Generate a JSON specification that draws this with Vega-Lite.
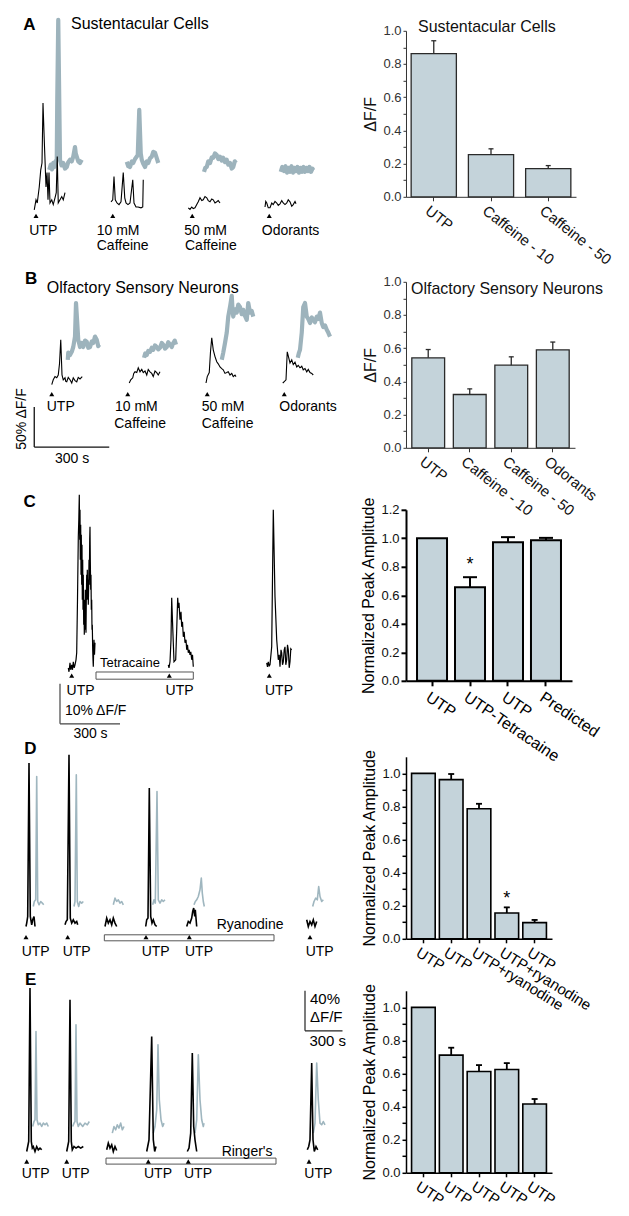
{
"$schema": "https://vega.github.io/schema/vega-lite/v6.json",
"background": "white",
"padding": {"left": 0, "top": 14.8, "right": 5, "bottom": 5},
"autosize": {"type": "pad"},
"columns": 2,
"bounds": "flush",
"align": "each",
"spacing": {"row": 10, "column": 10},
"config": {
"font": "Liberation Sans",
"view": {"stroke": null},
"axis": {"labelFont": "Liberation Sans", "titleFont": "Liberation Sans", "grid": false, "labelOverlap": false, "labelFlush": false, "labelBound": false},
"axisY": {"labelOverlap": false},
"axisX": {"labelOverlap": false},
"title": {"font": "Liberation Sans"},
"text": {"font": "Liberation Sans", "color": "#000"}
},
"datasets": {
"trA": [
{"s":"A1k","c":"k","t":137,"v":77.5},{"s":"A1k","c":"k","t":144,"v":90},{"s":"A1k","c":"k","t":149,"v":86},{"s":"A1k","c":"k","t":157,"v":106},{"s":"A1k","c":"k","t":163,"v":127.5},{"s":"A1k","c":"k","t":168,"v":136},{"s":"A1k","c":"k","t":172,"v":211},{"s":"A1k","c":"k","t":177,"v":165},{"s":"A1k","c":"k","t":184,"v":106},{"s":"A1k","c":"k","t":188,"v":124},{"s":"A1k","c":"k","t":192,"v":90},{"s":"A1k","c":"k","t":196,"v":124},{"s":"A1k","c":"k","t":200,"v":86},{"s":"A1k","c":"k","t":207,"v":90},{"s":"A1k","c":"k","t":213,"v":84},{"s":"A1k","c":"k","t":220,"v":92.5},{"s":"A1k","c":"k","t":225,"v":99},{"s":"A1k","c":"k","t":229,"v":144},{"s":"A1k","c":"k","t":233,"v":86},{"s":"A1k","c":"k","t":240,"v":90},{"s":"A1k","c":"k","t":247,"v":94},{"s":"A1k","c":"k","t":253,"v":90},{"s":"A1k","c":"k","t":260,"v":99},
{"s":"A1g","c":"g","t":197,"v":127.5},{"s":"A1g","c":"g","t":203,"v":134},{"s":"A1g","c":"g","t":208,"v":128},{"s":"A1g","c":"g","t":213,"v":136},{"s":"A1g","c":"g","t":218,"v":131},{"s":"A1g","c":"g","t":222,"v":138},{"s":"A1g","c":"g","t":227,"v":140},{"s":"A1g","c":"g","t":229,"v":215},{"s":"A1g","c":"g","t":233,"v":315},{"s":"A1g","c":"g","t":237,"v":215},{"s":"A1g","c":"g","t":240,"v":140},{"s":"A1g","c":"g","t":246,"v":133},{"s":"A1g","c":"g","t":253,"v":136},{"s":"A1g","c":"g","t":260,"v":129},{"s":"A1g","c":"g","t":267,"v":131},{"s":"A1g","c":"g","t":273,"v":137},{"s":"A1g","c":"g","t":280,"v":140},{"s":"A1g","c":"g","t":287,"v":138},{"s":"A1g","c":"g","t":293,"v":144},{"s":"A1g","c":"g","t":300,"v":156},{"s":"A1g","c":"g","t":303,"v":148},{"s":"A1g","c":"g","t":307,"v":144},{"s":"A1g","c":"g","t":313,"v":138},{"s":"A1g","c":"g","t":320,"v":136},{"s":"A1g","c":"g","t":327,"v":140},
{"s":"A2k","c":"k","t":444,"v":87.5},{"s":"A2k","c":"k","t":451,"v":90},{"s":"A2k","c":"k","t":456,"v":119},{"s":"A2k","c":"k","t":461,"v":90},{"s":"A2k","c":"k","t":468,"v":86},{"s":"A2k","c":"k","t":476,"v":84},{"s":"A2k","c":"k","t":484,"v":87.5},{"s":"A2k","c":"k","t":493,"v":124},{"s":"A2k","c":"k","t":499,"v":92.5},{"s":"A2k","c":"k","t":504,"v":86},{"s":"A2k","c":"k","t":512,"v":84},{"s":"A2k","c":"k","t":520,"v":86},{"s":"A2k","c":"k","t":531,"v":115},{"s":"A2k","c":"k","t":536,"v":86},{"s":"A2k","c":"k","t":544,"v":81},{"s":"A2k","c":"k","t":552,"v":81},{"s":"A2k","c":"k","t":564,"v":80},{"s":"A2k","c":"k","t":571,"v":81},{"s":"A2k","c":"k","t":573,"v":115},
{"s":"A2g","c":"g","t":507,"v":137.5},{"s":"A2g","c":"g","t":513,"v":132},{"s":"A2g","c":"g","t":520,"v":131},{"s":"A2g","c":"g","t":527,"v":138},{"s":"A2g","c":"g","t":533,"v":136},{"s":"A2g","c":"g","t":540,"v":141},{"s":"A2g","c":"g","t":547,"v":144},{"s":"A2g","c":"g","t":551,"v":146},{"s":"A2g","c":"g","t":557,"v":202.5},{"s":"A2g","c":"g","t":563,"v":148},{"s":"A2g","c":"g","t":567,"v":140},{"s":"A2g","c":"g","t":573,"v":135},{"s":"A2g","c":"g","t":580,"v":131},{"s":"A2g","c":"g","t":587,"v":138},{"s":"A2g","c":"g","t":593,"v":136},{"s":"A2g","c":"g","t":600,"v":142},{"s":"A2g","c":"g","t":607,"v":144},{"s":"A2g","c":"g","t":613,"v":150},{"s":"A2g","c":"g","t":620,"v":149},{"s":"A2g","c":"g","t":627,"v":142},{"s":"A2g","c":"g","t":633,"v":136},
{"s":"A3k","c":"k","t":753,"v":80},{"s":"A3k","c":"k","t":760,"v":78},{"s":"A3k","c":"k","t":767,"v":81},{"s":"A3k","c":"k","t":773,"v":79},{"s":"A3k","c":"k","t":780,"v":80},{"s":"A3k","c":"k","t":787,"v":84},{"s":"A3k","c":"k","t":793,"v":87.5},{"s":"A3k","c":"k","t":800,"v":92.5},{"s":"A3k","c":"k","t":807,"v":89},{"s":"A3k","c":"k","t":813,"v":90},{"s":"A3k","c":"k","t":820,"v":94},{"s":"A3k","c":"k","t":827,"v":92.5},{"s":"A3k","c":"k","t":833,"v":89},{"s":"A3k","c":"k","t":840,"v":87.5},{"s":"A3k","c":"k","t":847,"v":91},{"s":"A3k","c":"k","t":853,"v":90},{"s":"A3k","c":"k","t":860,"v":86},{"s":"A3k","c":"k","t":867,"v":87.5},{"s":"A3k","c":"k","t":873,"v":89},{"s":"A3k","c":"k","t":880,"v":86},
{"s":"A3g","c":"g","t":816,"v":125},{"s":"A3g","c":"g","t":821,"v":130},{"s":"A3g","c":"g","t":827,"v":131},{"s":"A3g","c":"g","t":833,"v":138},{"s":"A3g","c":"g","t":840,"v":136},{"s":"A3g","c":"g","t":847,"v":143},{"s":"A3g","c":"g","t":853,"v":142.5},{"s":"A3g","c":"g","t":860,"v":148},{"s":"A3g","c":"g","t":867,"v":146},{"s":"A3g","c":"g","t":873,"v":141},{"s":"A3g","c":"g","t":880,"v":144},{"s":"A3g","c":"g","t":887,"v":139},{"s":"A3g","c":"g","t":893,"v":142.5},{"s":"A3g","c":"g","t":900,"v":137},{"s":"A3g","c":"g","t":907,"v":140},{"s":"A3g","c":"g","t":913,"v":134},{"s":"A3g","c":"g","t":920,"v":136},{"s":"A3g","c":"g","t":927,"v":129},{"s":"A3g","c":"g","t":933,"v":131},{"s":"A3g","c":"g","t":939,"v":138},{"s":"A3g","c":"g","t":944,"v":136},
{"s":"A4k","c":"k","t":1060,"v":81},{"s":"A4k","c":"k","t":1063,"v":88},{"s":"A4k","c":"k","t":1067,"v":86},{"s":"A4k","c":"k","t":1073,"v":80},{"s":"A4k","c":"k","t":1080,"v":80},{"s":"A4k","c":"k","t":1087,"v":86},{"s":"A4k","c":"k","t":1093,"v":84},{"s":"A4k","c":"k","t":1100,"v":88},{"s":"A4k","c":"k","t":1107,"v":86},{"s":"A4k","c":"k","t":1113,"v":83},{"s":"A4k","c":"k","t":1120,"v":85},{"s":"A4k","c":"k","t":1127,"v":89},{"s":"A4k","c":"k","t":1133,"v":86},{"s":"A4k","c":"k","t":1140,"v":84},{"s":"A4k","c":"k","t":1147,"v":86},{"s":"A4k","c":"k","t":1153,"v":90},{"s":"A4k","c":"k","t":1160,"v":87.5},{"s":"A4k","c":"k","t":1167,"v":82},{"s":"A4k","c":"k","t":1173,"v":84},{"s":"A4k","c":"k","t":1180,"v":88},{"s":"A4k","c":"k","t":1184,"v":85},
{"s":"A4g","c":"g","t":1123,"v":125},{"s":"A4g","c":"g","t":1129,"v":131},{"s":"A4g","c":"g","t":1136,"v":126},{"s":"A4g","c":"g","t":1142,"v":132},{"s":"A4g","c":"g","t":1148,"v":124},{"s":"A4g","c":"g","t":1154,"v":130},{"s":"A4g","c":"g","t":1160,"v":125},{"s":"A4g","c":"g","t":1166,"v":132},{"s":"A4g","c":"g","t":1172,"v":124},{"s":"A4g","c":"g","t":1178,"v":130},{"s":"A4g","c":"g","t":1184,"v":126},{"s":"A4g","c":"g","t":1190,"v":131},{"s":"A4g","c":"g","t":1196,"v":124},{"s":"A4g","c":"g","t":1202,"v":130},{"s":"A4g","c":"g","t":1208,"v":125},{"s":"A4g","c":"g","t":1214,"v":131},{"s":"A4g","c":"g","t":1220,"v":125},{"s":"A4g","c":"g","t":1226,"v":130},{"s":"A4g","c":"g","t":1232,"v":126},{"s":"A4g","c":"g","t":1238,"v":131},{"s":"A4g","c":"g","t":1244,"v":125},{"s":"A4g","c":"g","t":1250,"v":129},{"s":"A4g","c":"g","t":1253,"v":127}
],
"trB": [
{"s":"B1k","c":"k","t":207,"v":144},{"s":"B1k","c":"k","t":213,"v":150},{"s":"B1k","c":"k","t":220,"v":154},{"s":"B1k","c":"k","t":227,"v":152.5},{"s":"B1k","c":"k","t":233,"v":156},{"s":"B1k","c":"k","t":238,"v":170},{"s":"B1k","c":"k","t":243,"v":200},{"s":"B1k","c":"k","t":248,"v":156},{"s":"B1k","c":"k","t":253,"v":150},{"s":"B1k","c":"k","t":260,"v":152.5},{"s":"B1k","c":"k","t":263,"v":148},{"s":"B1k","c":"k","t":267,"v":147.5},{"s":"B1k","c":"k","t":273,"v":153},{"s":"B1k","c":"k","t":280,"v":150},{"s":"B1k","c":"k","t":287,"v":146},{"s":"B1k","c":"k","t":293,"v":152.5},{"s":"B1k","c":"k","t":300,"v":149},{"s":"B1k","c":"k","t":307,"v":147.5},{"s":"B1k","c":"k","t":313,"v":153},{"s":"B1k","c":"k","t":320,"v":151},{"s":"B1k","c":"k","t":329,"v":154},
{"s":"B1g","c":"g","t":271,"v":175},{"s":"B1g","c":"g","t":273,"v":184},{"s":"B1g","c":"g","t":280,"v":181},{"s":"B1g","c":"g","t":287,"v":185},{"s":"B1g","c":"g","t":293,"v":191},{"s":"B1g","c":"g","t":300,"v":204},{"s":"B1g","c":"g","t":304,"v":246},{"s":"B1g","c":"g","t":309,"v":221},{"s":"B1g","c":"g","t":313,"v":200},{"s":"B1g","c":"g","t":320,"v":191},{"s":"B1g","c":"g","t":327,"v":196},{"s":"B1g","c":"g","t":333,"v":191},{"s":"B1g","c":"g","t":340,"v":199},{"s":"B1g","c":"g","t":347,"v":197.5},{"s":"B1g","c":"g","t":353,"v":190},{"s":"B1g","c":"g","t":360,"v":191},{"s":"B1g","c":"g","t":367,"v":198},{"s":"B1g","c":"g","t":373,"v":196},{"s":"B1g","c":"g","t":380,"v":204},{"s":"B1g","c":"g","t":387,"v":200},{"s":"B1g","c":"g","t":393,"v":192},{"s":"B1g","c":"g","t":397,"v":194},
{"s":"B2k","c":"k","t":517,"v":146},{"s":"B2k","c":"k","t":523,"v":150},{"s":"B2k","c":"k","t":531,"v":152.5},{"s":"B2k","c":"k","t":535,"v":158},{"s":"B2k","c":"k","t":540,"v":160},{"s":"B2k","c":"k","t":547,"v":159},{"s":"B2k","c":"k","t":553,"v":165},{"s":"B2k","c":"k","t":560,"v":160},{"s":"B2k","c":"k","t":567,"v":163},{"s":"B2k","c":"k","t":573,"v":159},{"s":"B2k","c":"k","t":580,"v":161},{"s":"B2k","c":"k","t":587,"v":156},{"s":"B2k","c":"k","t":593,"v":163},{"s":"B2k","c":"k","t":600,"v":160},{"s":"B2k","c":"k","t":607,"v":158},{"s":"B2k","c":"k","t":613,"v":154},{"s":"B2k","c":"k","t":620,"v":161},{"s":"B2k","c":"k","t":627,"v":159},{"s":"B2k","c":"k","t":633,"v":156},{"s":"B2k","c":"k","t":640,"v":160},
{"s":"B2g","c":"g","t":576,"v":177.5},{"s":"B2g","c":"g","t":581,"v":183},{"s":"B2g","c":"g","t":587,"v":181},{"s":"B2g","c":"g","t":593,"v":186},{"s":"B2g","c":"g","t":600,"v":185},{"s":"B2g","c":"g","t":607,"v":190},{"s":"B2g","c":"g","t":613,"v":187.5},{"s":"B2g","c":"g","t":620,"v":193},{"s":"B2g","c":"g","t":627,"v":191},{"s":"B2g","c":"g","t":633,"v":188},{"s":"B2g","c":"g","t":640,"v":190},{"s":"B2g","c":"g","t":647,"v":196},{"s":"B2g","c":"g","t":653,"v":194},{"s":"B2g","c":"g","t":660,"v":189},{"s":"B2g","c":"g","t":667,"v":191},{"s":"B2g","c":"g","t":673,"v":197},{"s":"B2g","c":"g","t":680,"v":194},{"s":"B2g","c":"g","t":687,"v":191},{"s":"B2g","c":"g","t":693,"v":196},{"s":"B2g","c":"g","t":699,"v":199},{"s":"B2g","c":"g","t":704,"v":194},
{"s":"B3k","c":"k","t":824,"v":146},{"s":"B3k","c":"k","t":829,"v":154},{"s":"B3k","c":"k","t":837,"v":159},{"s":"B3k","c":"k","t":842,"v":185},{"s":"B3k","c":"k","t":847,"v":202.5},{"s":"B3k","c":"k","t":853,"v":187.5},{"s":"B3k","c":"k","t":860,"v":179},{"s":"B3k","c":"k","t":867,"v":172.5},{"s":"B3k","c":"k","t":873,"v":170},{"s":"B3k","c":"k","t":880,"v":166},{"s":"B3k","c":"k","t":887,"v":164},{"s":"B3k","c":"k","t":893,"v":162.5},{"s":"B3k","c":"k","t":900,"v":158},{"s":"B3k","c":"k","t":907,"v":159},{"s":"B3k","c":"k","t":913,"v":160},{"s":"B3k","c":"k","t":920,"v":156},{"s":"B3k","c":"k","t":927,"v":158},{"s":"B3k","c":"k","t":933,"v":154},{"s":"B3k","c":"k","t":940,"v":156},{"s":"B3k","c":"k","t":944,"v":154},
{"s":"B3g","c":"g","t":887,"v":175},{"s":"B3g","c":"g","t":893,"v":184},{"s":"B3g","c":"g","t":900,"v":196},{"s":"B3g","c":"g","t":907,"v":209},{"s":"B3g","c":"g","t":913,"v":229},{"s":"B3g","c":"g","t":920,"v":241},{"s":"B3g","c":"g","t":927,"v":255},{"s":"B3g","c":"g","t":930,"v":238},{"s":"B3g","c":"g","t":933,"v":229},{"s":"B3g","c":"g","t":940,"v":238},{"s":"B3g","c":"g","t":947,"v":234},{"s":"B3g","c":"g","t":953,"v":244},{"s":"B3g","c":"g","t":960,"v":241},{"s":"B3g","c":"g","t":967,"v":232},{"s":"B3g","c":"g","t":973,"v":237.5},{"s":"B3g","c":"g","t":980,"v":230},{"s":"B3g","c":"g","t":987,"v":225},{"s":"B3g","c":"g","t":993,"v":246},{"s":"B3g","c":"g","t":1000,"v":234},{"s":"B3g","c":"g","t":1007,"v":236},{"s":"B3g","c":"g","t":1013,"v":229},
{"s":"B4k","c":"k","t":1131,"v":146},{"s":"B4k","c":"k","t":1136,"v":147.5},{"s":"B4k","c":"k","t":1144,"v":150},{"s":"B4k","c":"k","t":1149,"v":185},{"s":"B4k","c":"k","t":1155,"v":177.5},{"s":"B4k","c":"k","t":1160,"v":171},{"s":"B4k","c":"k","t":1167,"v":175},{"s":"B4k","c":"k","t":1173,"v":169},{"s":"B4k","c":"k","t":1180,"v":172},{"s":"B4k","c":"k","t":1187,"v":166},{"s":"B4k","c":"k","t":1193,"v":168},{"s":"B4k","c":"k","t":1200,"v":165},{"s":"B4k","c":"k","t":1207,"v":167},{"s":"B4k","c":"k","t":1213,"v":162.5},{"s":"B4k","c":"k","t":1220,"v":164},{"s":"B4k","c":"k","t":1227,"v":160},{"s":"B4k","c":"k","t":1233,"v":163},{"s":"B4k","c":"k","t":1240,"v":159},{"s":"B4k","c":"k","t":1247,"v":158},{"s":"B4k","c":"k","t":1253,"v":156},
{"s":"B4g","c":"g","t":1191,"v":177.5},{"s":"B4g","c":"g","t":1196,"v":184},{"s":"B4g","c":"g","t":1200,"v":187.5},{"s":"B4g","c":"g","t":1207,"v":209},{"s":"B4g","c":"g","t":1213,"v":241},{"s":"B4g","c":"g","t":1220,"v":246},{"s":"B4g","c":"g","t":1227,"v":229},{"s":"B4g","c":"g","t":1233,"v":226},{"s":"B4g","c":"g","t":1240,"v":221},{"s":"B4g","c":"g","t":1247,"v":228},{"s":"B4g","c":"g","t":1253,"v":225},{"s":"B4g","c":"g","t":1260,"v":222},{"s":"B4g","c":"g","t":1267,"v":229},{"s":"B4g","c":"g","t":1273,"v":226},{"s":"B4g","c":"g","t":1280,"v":234},{"s":"B4g","c":"g","t":1287,"v":221},{"s":"B4g","c":"g","t":1293,"v":216},{"s":"B4g","c":"g","t":1300,"v":218},{"s":"B4g","c":"g","t":1307,"v":212.5},{"s":"B4g","c":"g","t":1313,"v":209},{"s":"B4g","c":"g","t":1320,"v":204}
],
"trC": [
{"s":"C1","c":"k","t":341.5,"v":19.75},{"s":"C1","c":"k","t":345,"v":18.75},{"s":"C1","c":"k","t":350,"v":21},{"s":"C1","c":"k","t":353.5,"v":19.25},{"s":"C1","c":"k","t":358.5,"v":20.5},{"s":"C1","c":"k","t":362.5,"v":19.25},{"s":"C1","c":"k","t":366.5,"v":21.25},{"s":"C1","c":"k","t":371,"v":19.75},{"s":"C1","c":"k","t":375,"v":20.5},{"s":"C1","c":"k","t":380,"v":21.75},{"s":"C1","c":"k","t":383.5,"v":23.5},{"s":"C1","c":"k","t":387.5,"v":36.75},{"s":"C1","c":"k","t":391.5,"v":52.5},{"s":"C1","c":"k","t":394,"v":56.75},{"s":"C1","c":"k","t":396.5,"v":63},{"s":"C1","c":"k","t":398.5,"v":51.75},{"s":"C1","c":"k","t":400,"v":59.25},{"s":"C1","c":"k","t":401.5,"v":46.75},{"s":"C1","c":"k","t":403.5,"v":55.5},{"s":"C1","c":"k","t":405,"v":43},{"s":"C1","c":"k","t":406.5,"v":53},{"s":"C1","c":"k","t":408.5,"v":40.5},{"s":"C1","c":"k","t":410,"v":50.5},{"s":"C1","c":"k","t":411.5,"v":36.75},{"s":"C1","c":"k","t":413.5,"v":46.75},{"s":"C1","c":"k","t":415,"v":34.25},{"s":"C1","c":"k","t":416.5,"v":43},{"s":"C1","c":"k","t":418.5,"v":30.5},{"s":"C1","c":"k","t":420,"v":36.75},{"s":"C1","c":"k","t":421.5,"v":28},{"s":"C1","c":"k","t":423.5,"v":34.25},{"s":"C1","c":"k","t":425,"v":29.25},{"s":"C1","c":"k","t":426.5,"v":39.25},{"s":"C1","c":"k","t":428.5,"v":31.75},{"s":"C1","c":"k","t":430,"v":28.5},{"s":"C1","c":"k","t":431.5,"v":36.75},{"s":"C1","c":"k","t":433.5,"v":43},{"s":"C1","c":"k","t":435,"v":36.75},{"s":"C1","c":"k","t":436.5,"v":44.25},{"s":"C1","c":"k","t":438.5,"v":38},{"s":"C1","c":"k","t":440,"v":41.75},{"s":"C1","c":"k","t":441.5,"v":35.5},{"s":"C1","c":"k","t":443.5,"v":40.5},{"s":"C1","c":"k","t":445,"v":46.75},{"s":"C1","c":"k","t":446.5,"v":40.5},{"s":"C1","c":"k","t":448.5,"v":51.75},{"s":"C1","c":"k","t":450,"v":55},{"s":"C1","c":"k","t":451.5,"v":46.75},{"s":"C1","c":"k","t":453.5,"v":39.25},{"s":"C1","c":"k","t":455,"v":43},{"s":"C1","c":"k","t":456.5,"v":34.25},{"s":"C1","c":"k","t":458.5,"v":36.75},{"s":"C1","c":"k","t":460,"v":29.25},{"s":"C1","c":"k","t":461.5,"v":30.5},{"s":"C1","c":"k","t":463.5,"v":24.25},{"s":"C1","c":"k","t":465,"v":21.75},{"s":"C1","c":"k","t":466.5,"v":20},{"s":"C1","c":"k","t":468.5,"v":24.25},{"s":"C1","c":"k","t":470,"v":26.75},{"s":"C1","c":"k","t":472.5,"v":23},{"s":"C1","c":"k","t":475,"v":26},
{"s":"C2","c":"k","t":841.5,"v":20.5},{"s":"C2","c":"k","t":845,"v":19.75},{"s":"C2","c":"k","t":850,"v":21.25},{"s":"C2","c":"k","t":855,"v":26.75},{"s":"C2","c":"k","t":858.5,"v":37.25},{"s":"C2","c":"k","t":863.5,"v":30},{"s":"C2","c":"k","t":870,"v":21.25},{"s":"C2","c":"k","t":878.5,"v":21.75},{"s":"C2","c":"k","t":883.5,"v":29.25},{"s":"C2","c":"k","t":888.5,"v":37.25},{"s":"C2","c":"k","t":891.5,"v":34.75},{"s":"C2","c":"k","t":895,"v":36},{"s":"C2","c":"k","t":898.5,"v":33},{"s":"C2","c":"k","t":900,"v":31.75},{"s":"C2","c":"k","t":905,"v":33.75},{"s":"C2","c":"k","t":908.5,"v":30},{"s":"C2","c":"k","t":912.5,"v":31.25},{"s":"C2","c":"k","t":916.5,"v":27.5},{"s":"C2","c":"k","t":921,"v":28.75},{"s":"C2","c":"k","t":925,"v":26},{"s":"C2","c":"k","t":930,"v":26.75},{"s":"C2","c":"k","t":933.5,"v":24.25},{"s":"C2","c":"k","t":937.5,"v":25.5},{"s":"C2","c":"k","t":941.5,"v":23.5},{"s":"C2","c":"k","t":946,"v":24.25},{"s":"C2","c":"k","t":950,"v":23},{"s":"C2","c":"k","t":954,"v":23.75},{"s":"C2","c":"k","t":958.5,"v":21.75},{"s":"C2","c":"k","t":962.5,"v":23},{"s":"C2","c":"k","t":966.5,"v":20},
{"s":"C3","c":"k","t":1333.5,"v":21},{"s":"C3","c":"k","t":1337.5,"v":20},{"s":"C3","c":"k","t":1341.5,"v":21.25},{"s":"C3","c":"k","t":1346,"v":20.25},{"s":"C3","c":"k","t":1350,"v":20.5},{"s":"C3","c":"k","t":1358.5,"v":25},{"s":"C3","c":"k","t":1366.5,"v":59.25},{"s":"C3","c":"k","t":1375,"v":37.5},{"s":"C3","c":"k","t":1383.5,"v":26.75},{"s":"C3","c":"k","t":1391.5,"v":21.75},{"s":"C3","c":"k","t":1396,"v":23},{"s":"C3","c":"k","t":1400,"v":20},{"s":"C3","c":"k","t":1405,"v":24.25},{"s":"C3","c":"k","t":1408.5,"v":23.5},{"s":"C3","c":"k","t":1412.5,"v":20.5},{"s":"C3","c":"k","t":1416.5,"v":21.25},{"s":"C3","c":"k","t":1421,"v":24.25},{"s":"C3","c":"k","t":1425,"v":25},{"s":"C3","c":"k","t":1429,"v":20.5},{"s":"C3","c":"k","t":1433.5,"v":21.75},{"s":"C3","c":"k","t":1437.5,"v":25.5},{"s":"C3","c":"k","t":1441.5,"v":24.25},{"s":"C3","c":"k","t":1446,"v":19.75},{"s":"C3","c":"k","t":1450,"v":21.25},{"s":"C3","c":"k","t":1454,"v":24.5},{"s":"C3","c":"k","t":1458.5,"v":24.25}
],
"trD": [
{"s":"D1k","c":"k","t":208,"v":54.3},{"s":"D1k","c":"k","t":213.6,"v":57.7},{"s":"D1k","c":"k","t":221.6,"v":64.3},{"s":"D1k","c":"k","t":232,"v":217.7},{"s":"D1k","c":"k","t":242.4,"v":64.3},{"s":"D1k","c":"k","t":253.6,"v":56},{"s":"D1k","c":"k","t":261.6,"v":61},{"s":"D1k","c":"k","t":272,"v":64.3},{"s":"D1k","c":"k","t":280,"v":54.3},
{"s":"D1g","c":"g","t":266.4,"v":74.3},{"s":"D1g","c":"g","t":274.4,"v":79.3},{"s":"D1g","c":"g","t":285.6,"v":81},{"s":"D1g","c":"g","t":293.6,"v":204.3},{"s":"D1g","c":"g","t":301.6,"v":79.3},{"s":"D1g","c":"g","t":312,"v":76},{"s":"D1g","c":"g","t":325.6,"v":79.3},{"s":"D1g","c":"g","t":338.4,"v":77.7},{"s":"D1g","c":"g","t":349.6,"v":76},
{"s":"D2k","c":"k","t":520,"v":56},{"s":"D2k","c":"k","t":528,"v":59.3},{"s":"D2k","c":"k","t":538.4,"v":61},{"s":"D2k","c":"k","t":552,"v":226},{"s":"D2k","c":"k","t":562.4,"v":62.7},{"s":"D2k","c":"k","t":573.6,"v":57.7},{"s":"D2k","c":"k","t":586.4,"v":61},{"s":"D2k","c":"k","t":600,"v":57.7},{"s":"D2k","c":"k","t":613.6,"v":59.3},{"s":"D2k","c":"k","t":621.6,"v":56},
{"s":"D2g","c":"g","t":592,"v":74.3},{"s":"D2g","c":"g","t":600,"v":79.3},{"s":"D2g","c":"g","t":610.4,"v":206},{"s":"D2g","c":"g","t":618.4,"v":79.3},{"s":"D2g","c":"g","t":629.6,"v":74.3},{"s":"D2g","c":"g","t":640,"v":79.3},{"s":"D2g","c":"g","t":653.6,"v":77.7},{"s":"D2g","c":"g","t":666.4,"v":79.3},
{"s":"D3k","c":"k","t":840,"v":54.3},{"s":"D3k","c":"k","t":853.6,"v":62.7},{"s":"D3k","c":"k","t":866.4,"v":57.7},{"s":"D3k","c":"k","t":880,"v":61},{"s":"D3k","c":"k","t":893.6,"v":56},{"s":"D3k","c":"k","t":906.4,"v":62.7},{"s":"D3k","c":"k","t":920,"v":57.7},{"s":"D3k","c":"k","t":933.6,"v":54.3},
{"s":"D3g","c":"g","t":906.4,"v":76},{"s":"D3g","c":"g","t":920,"v":82.7},{"s":"D3g","c":"g","t":933.6,"v":79.3},{"s":"D3g","c":"g","t":946.4,"v":81},{"s":"D3g","c":"g","t":960,"v":77.7},{"s":"D3g","c":"g","t":973.6,"v":79.3},{"s":"D3g","c":"g","t":986.4,"v":76},
{"s":"D4k","c":"k","t":1165.6,"v":54.3},{"s":"D4k","c":"k","t":1173.6,"v":61},{"s":"D4k","c":"k","t":1184,"v":62.7},{"s":"D4k","c":"k","t":1194.4,"v":192.7},{"s":"D4k","c":"k","t":1205.6,"v":64.3},{"s":"D4k","c":"k","t":1216,"v":57.7},{"s":"D4k","c":"k","t":1226.4,"v":61},{"s":"D4k","c":"k","t":1240,"v":56},{"s":"D4k","c":"k","t":1253.6,"v":54.3},
{"s":"D4g","c":"g","t":1221.6,"v":76},{"s":"D4g","c":"g","t":1232,"v":81},{"s":"D4g","c":"g","t":1242.4,"v":77.7},{"s":"D4g","c":"g","t":1256,"v":189.3},{"s":"D4g","c":"g","t":1266.4,"v":81},{"s":"D4g","c":"g","t":1280,"v":77.7},{"s":"D4g","c":"g","t":1293.6,"v":81},{"s":"D4g","c":"g","t":1306.4,"v":79.3},{"s":"D4g","c":"g","t":1320,"v":81},
{"s":"D5k","c":"k","t":1493.6,"v":54.3},{"s":"D5k","c":"k","t":1506.4,"v":59.3},{"s":"D5k","c":"k","t":1520,"v":57.7},{"s":"D5k","c":"k","t":1533.6,"v":62.7},{"s":"D5k","c":"k","t":1541.6,"v":69.3},{"s":"D5k","c":"k","t":1549.6,"v":72.7},{"s":"D5k","c":"k","t":1557.6,"v":64.3},{"s":"D5k","c":"k","t":1562.4,"v":71},{"s":"D5k","c":"k","t":1573.6,"v":54.3},
{"s":"D5g","c":"g","t":1552,"v":76},{"s":"D5g","c":"g","t":1562.4,"v":79.3},{"s":"D5g","c":"g","t":1573.6,"v":81},{"s":"D5g","c":"g","t":1586.4,"v":84.3},{"s":"D5g","c":"g","t":1600,"v":91},{"s":"D5g","c":"g","t":1610.4,"v":102.7},{"s":"D5g","c":"g","t":1618.4,"v":87.7},{"s":"D5g","c":"g","t":1626.4,"v":79.3},{"s":"D5g","c":"g","t":1634.4,"v":74.3},
{"s":"D6k","c":"k","t":2453.6,"v":61},{"s":"D6k","c":"k","t":2466.4,"v":54.3},{"s":"D6k","c":"k","t":2480,"v":59.3},{"s":"D6k","c":"k","t":2493.6,"v":56},{"s":"D6k","c":"k","t":2506.4,"v":61},{"s":"D6k","c":"k","t":2520,"v":54.3},{"s":"D6k","c":"k","t":2533.6,"v":59.3},
{"s":"D6g","c":"g","t":2501.6,"v":74.3},{"s":"D6g","c":"g","t":2512,"v":79.3},{"s":"D6g","c":"g","t":2525.6,"v":82.7},{"s":"D6g","c":"g","t":2538.4,"v":81},{"s":"D6g","c":"g","t":2549.6,"v":94.3},{"s":"D6g","c":"g","t":2560,"v":84.3},{"s":"D6g","c":"g","t":2573.6,"v":79.3},{"s":"D6g","c":"g","t":2586.4,"v":81}
],
"trE": [
{"s":"E1k","c":"k","t":213.6,"v":21.3},{"s":"E1k","c":"k","t":221.6,"v":26.3},{"s":"E1k","c":"k","t":229.6,"v":31.3},{"s":"E1k","c":"k","t":240,"v":184.7},{"s":"E1k","c":"k","t":250.4,"v":31.3},{"s":"E1k","c":"k","t":258.4,"v":24.7},{"s":"E1k","c":"k","t":266.4,"v":26.3},{"s":"E1k","c":"k","t":280,"v":21.3},{"s":"E1k","c":"k","t":293.6,"v":26.3},{"s":"E1k","c":"k","t":306.4,"v":23},{"s":"E1k","c":"k","t":320,"v":24.7},{"s":"E1k","c":"k","t":333.6,"v":23},
{"s":"E1g","c":"g","t":261.6,"v":46.3},{"s":"E1g","c":"g","t":272,"v":51.3},{"s":"E1g","c":"g","t":280,"v":53},{"s":"E1g","c":"g","t":288,"v":141.3},{"s":"E1g","c":"g","t":296,"v":53},{"s":"E1g","c":"g","t":306.4,"v":48},{"s":"E1g","c":"g","t":320,"v":49.7},{"s":"E1g","c":"g","t":333.6,"v":46.3},{"s":"E1g","c":"g","t":346.4,"v":49.7},{"s":"E1g","c":"g","t":360,"v":48},{"s":"E1g","c":"g","t":373.6,"v":49.7},{"s":"E1g","c":"g","t":386.4,"v":46.3},
{"s":"E2k","c":"k","t":533.6,"v":21.3},{"s":"E2k","c":"k","t":541.6,"v":26.3},{"s":"E2k","c":"k","t":549.6,"v":31.3},{"s":"E2k","c":"k","t":560,"v":173},{"s":"E2k","c":"k","t":570.4,"v":31.3},{"s":"E2k","c":"k","t":578.4,"v":23},{"s":"E2k","c":"k","t":592,"v":26.3},{"s":"E2k","c":"k","t":608,"v":24.7},{"s":"E2k","c":"k","t":626.4,"v":26.3},{"s":"E2k","c":"k","t":645.6,"v":24.7},{"s":"E2k","c":"k","t":666.4,"v":26.3},
{"s":"E2g","c":"g","t":581.6,"v":46.3},{"s":"E2g","c":"g","t":592,"v":49.7},{"s":"E2g","c":"g","t":600,"v":51.3},{"s":"E2g","c":"g","t":608,"v":148},{"s":"E2g","c":"g","t":616,"v":51.3},{"s":"E2g","c":"g","t":626.4,"v":46.3},{"s":"E2g","c":"g","t":640,"v":49.7},{"s":"E2g","c":"g","t":661.6,"v":46.3},{"s":"E2g","c":"g","t":680,"v":49.7},{"s":"E2g","c":"g","t":698.4,"v":48},{"s":"E2g","c":"g","t":714.4,"v":51.3},
{"s":"E3k","c":"k","t":853.6,"v":23},{"s":"E3k","c":"k","t":866.4,"v":29.7},{"s":"E3k","c":"k","t":880,"v":24.7},{"s":"E3k","c":"k","t":893.6,"v":28},{"s":"E3k","c":"k","t":906.4,"v":21.3},{"s":"E3k","c":"k","t":920,"v":26.3},{"s":"E3k","c":"k","t":933.6,"v":22.3},
{"s":"E3g","c":"g","t":898.4,"v":39.7},{"s":"E3g","c":"g","t":912,"v":46.3},{"s":"E3g","c":"g","t":925.6,"v":43},{"s":"E3g","c":"g","t":938.4,"v":48},{"s":"E3g","c":"g","t":952,"v":44.7},{"s":"E3g","c":"g","t":965.6,"v":49.7},{"s":"E3g","c":"g","t":978.4,"v":43},{"s":"E3g","c":"g","t":992,"v":46.3},
{"s":"E4k","c":"k","t":1173.6,"v":21.3},{"s":"E4k","c":"k","t":1181.6,"v":26.3},{"s":"E4k","c":"k","t":1192,"v":33},{"s":"E4k","c":"k","t":1213.6,"v":136.3},{"s":"E4k","c":"k","t":1226.4,"v":33},{"s":"E4k","c":"k","t":1237.6,"v":21.3},{"s":"E4k","c":"k","t":1248,"v":26.3},
{"s":"E4g","c":"g","t":1226.4,"v":39.7},{"s":"E4g","c":"g","t":1240,"v":46.3},{"s":"E4g","c":"g","t":1253.6,"v":63},{"s":"E4g","c":"g","t":1264,"v":128},{"s":"E4g","c":"g","t":1274.4,"v":73},{"s":"E4g","c":"g","t":1288,"v":53},{"s":"E4g","c":"g","t":1301.6,"v":46.3},{"s":"E4g","c":"g","t":1312,"v":49.7},
{"s":"E5k","c":"k","t":1498.4,"v":21.3},{"s":"E5k","c":"k","t":1512,"v":24.7},{"s":"E5k","c":"k","t":1525.6,"v":39.7},{"s":"E5k","c":"k","t":1538.4,"v":119.7},{"s":"E5k","c":"k","t":1549.6,"v":46.3},{"s":"E5k","c":"k","t":1560,"v":33},{"s":"E5k","c":"k","t":1573.6,"v":21.3},
{"s":"E5g","c":"g","t":1560,"v":39.7},{"s":"E5g","c":"g","t":1573.6,"v":53},{"s":"E5g","c":"g","t":1586.4,"v":118},{"s":"E5g","c":"g","t":1600,"v":73},{"s":"E5g","c":"g","t":1613.6,"v":53},{"s":"E5g","c":"g","t":1626.4,"v":46.3},{"s":"E5g","c":"g","t":1632,"v":49.7},
{"s":"E6k","c":"k","t":2458.4,"v":23},{"s":"E6k","c":"k","t":2469.6,"v":26.3},{"s":"E6k","c":"k","t":2480,"v":33},{"s":"E6k","c":"k","t":2493.6,"v":109.7},{"s":"E6k","c":"k","t":2504,"v":33},{"s":"E6k","c":"k","t":2514.4,"v":21.3},{"s":"E6k","c":"k","t":2528,"v":26.3},{"s":"E6k","c":"k","t":2541.6,"v":23},
{"s":"E6g","c":"g","t":2506.4,"v":39.7},{"s":"E6g","c":"g","t":2520,"v":49.7},{"s":"E6g","c":"g","t":2533.6,"v":109.7},{"s":"E6g","c":"g","t":2546.4,"v":73},{"s":"E6g","c":"g","t":2560,"v":49.7},{"s":"E6g","c":"g","t":2573.6,"v":48},{"s":"E6g","c":"g","t":2586.4,"v":51.3},{"s":"E6g","c":"g","t":2600,"v":48}
],
"anA": [
{"kind":"tri","t":144,"v":70},{"kind":"tri","t":451,"v":70},{"kind":"tri","t":769,"v":70},{"kind":"tri","t":1077,"v":70},
{"kind":"letter","text":"A","t":93,"v":318.5},
{"kind":"title","text":"Sustentacular Cells","t":284,"v":320.25},
{"kind":"stim","text":"UTP","t":117,"v":51.5},{"kind":"stim","text":"10 mM","t":387,"v":51.5},{"kind":"stim","text":"Caffeine","t":387,"v":32.75},{"kind":"stim","text":"50 mM","t":737,"v":51.5},{"kind":"stim","text":"Caffeine","t":740,"v":32.75},{"kind":"stim","text":"Odorants","t":1047,"v":51.5}
],
"anB": [
{"kind":"tri","t":207,"v":132},{"kind":"tri","t":511,"v":132},{"kind":"tri","t":829,"v":132},{"kind":"tri","t":1137,"v":132},
{"kind":"letter","text":"B","t":100,"v":286.4},
{"kind":"title","text":"Olfactory Sensory Neurons","t":187,"v":274.75},
{"kind":"stim","text":"UTP","t":187,"v":116},{"kind":"stim","text":"10 mM","t":460,"v":116},{"kind":"stim","text":"Caffeine","t":457,"v":95},{"kind":"stim","text":"50 mM","t":807,"v":116},{"kind":"stim","text":"Caffeine","t":807,"v":95},{"kind":"stim","text":"Odorants","t":1117,"v":116},
{"kind":"rule","t":137,"t2":137,"v":65.9,"v2":115.9},{"kind":"rule","t":137,"t2":437,"v":65.9,"v2":65.9},
{"kind":"scale","text":"300 s","t":220,"v":50.75},
{"kind":"scalev","text":"50% ΔF/F","t":87,"v":101}
],
"anC": [
{"kind":"box","t":480,"t2":966.5,"v":16.9,"v2":18.7},
{"kind":"tri","t":358.5,"v":17.8},{"kind":"tri","t":846.5,"v":17.8},{"kind":"tri","t":1346.5,"v":17.8},
{"kind":"letter","text":"C","t":117,"v":63.2},
{"kind":"stim","text":"UTP","t":333,"v":13.9},{"kind":"stim","text":"UTP","t":828,"v":13.9},{"kind":"stim","text":"UTP","t":1325,"v":13.9},
{"kind":"drug","text":"Tetracaine","t":500,"v":20.85},
{"kind":"rule","t":300,"t2":300,"v":5.75,"v2":15.75},{"kind":"rule","t":300,"t2":600,"v":5.75,"v2":5.75},
{"kind":"scale","text":"10% ΔF/F","t":325,"v":8.95},{"kind":"scale","text":"300 s","t":367,"v":3.25}
],
"anD": [
{"kind":"box","t":834.7,"t2":2192,"v":40,"v2":46},
{"kind":"tri","t":208,"v":43.7},{"kind":"tri","t":541.6,"v":43.7},{"kind":"tri","t":1168,"v":43.7},{"kind":"tri","t":1514.4,"v":43.7},{"kind":"tri","t":2480,"v":43.7},
{"kind":"letter","text":"D","t":194,"v":240.1},
{"kind":"stim","text":"UTP","t":173.6,"v":28.3},{"kind":"stim","text":"UTP","t":501.6,"v":28.3},{"kind":"stim","text":"UTP","t":1133.6,"v":28.3},{"kind":"stim","text":"UTP","t":1480,"v":28.3},{"kind":"stim","text":"UTP","t":2445.6,"v":28.3},
{"kind":"drug","text":"Ryanodine","t":1733,"v":55.7}
],
"anE": [
{"kind":"box","t":848,"t2":2208,"v":8.7,"v2":14.7},
{"kind":"tri","t":213.6,"v":11.3},{"kind":"tri","t":533.6,"v":11.3},{"kind":"tri","t":1186.4,"v":11.3},{"kind":"tri","t":1506.4,"v":11.3},{"kind":"tri","t":2472,"v":11.3},
{"kind":"letter","text":"E","t":200,"v":200.5},
{"kind":"stim","text":"UTP","t":173.6,"v":-1.4},{"kind":"stim","text":"UTP","t":493.6,"v":-1.4},{"kind":"stim","text":"UTP","t":1152,"v":-1.4},{"kind":"stim","text":"UTP","t":1472,"v":-1.4},{"kind":"stim","text":"UTP","t":2434.7,"v":-1.4},
{"kind":"drug","text":"Ringer's","t":1773,"v":20.8},
{"kind":"rule","t":2440,"t2":2440,"v":142,"v2":182},{"kind":"rule","t":2440,"t2":2740,"v":142,"v2":142},
{"kind":"scale","text":"40%","t":2480,"v":174},{"kind":"scale","text":"ΔF/F","t":2480,"v":155.6},{"kind":"scale","text":"300 s","t":2475,"v":131.8}
],
"barA": [{"cond":"UTP","mean":0.862,"hi":0.94},{"cond":"Caffeine - 10","mean":0.254,"hi":0.289},{"cond":"Caffeine - 50","mean":0.17,"hi":0.188}],
"barB": [{"cond":"UTP","mean":0.542,"hi":0.592},{"cond":"Caffeine - 10","mean":0.321,"hi":0.355},{"cond":"Caffeine - 50","mean":0.498,"hi":0.548},{"cond":"Odorants","mean":0.59,"hi":0.637}],
"barC": [{"cond":"UTP#1","mean":1.0},{"cond":"UTP-Tetracaine#2","mean":0.656,"hi":0.727,"sig":"*"},{"cond":"UTP#3","mean":0.973,"hi":1.008},{"cond":"Predicted#4","mean":0.987,"hi":1.003}],
"barD": [{"cond":"UTP#1","mean":1.0},{"cond":"UTP#2","mean":0.962,"hi":0.996},{"cond":"UTP+ryanodine#3","mean":0.786,"hi":0.816},{"cond":"UTP+ryanodine#4","mean":0.156,"hi":0.19,"sig":"*"},{"cond":"UTP#5","mean":0.098,"hi":0.114}],
"barE": [{"cond":"UTP#1","mean":1.0},{"cond":"UTP#2","mean":0.711,"hi":0.756},{"cond":"UTP#3","mean":0.612,"hi":0.651},{"cond":"UTP#4","mean":0.624,"hi":0.663},{"cond":"UTP#5","mean":0.416,"hi":0.446}]
},
"concat": [
{
"width": 396,
"height": 241,
"encoding": {
"x": {"field": "t", "type": "quantitative", "scale": {"domain": [0, 1584], "nice": false, "zero": false}, "axis": null},
"y": {"field": "v", "type": "quantitative", "scale": {"domain": [0, 301.25], "nice": false, "zero": false}, "axis": null}
},
"layer": [
{"data": {"name": "trA"}, "transform": [{"filter": "datum.c == 'g'"}], "mark": {"type": "line", "color": "#9db3bc", "strokeWidth": 4.2, "strokeJoin": "round"}, "encoding": {"detail": {"field": "s"}}},
{"data": {"name": "trA"}, "transform": [{"filter": "datum.c == 'k'"}], "mark": {"type": "line", "color": "#000000", "strokeWidth": 1.1}, "encoding": {"detail": {"field": "s"}}},
{"data": {"name": "anA"}, "transform": [{"filter": "datum.kind == 'tri'"}], "mark": {"type": "point", "shape": "triangle-up", "filled": true, "color": "#000000", "size": 25, "opacity": 1}},
{"data": {"name": "anA"}, "transform": [{"filter": "datum.kind == 'letter'"}], "mark": {"type": "text", "align": "left", "baseline": "top", "fontSize": 17, "fontWeight": "bold"}, "encoding": {"text": {"field": "text"}}},
{"data": {"name": "anA"}, "transform": [{"filter": "datum.kind == 'title'"}], "mark": {"type": "text", "align": "left", "baseline": "top", "fontSize": 16}, "encoding": {"text": {"field": "text"}}},
{"data": {"name": "anA"}, "transform": [{"filter": "datum.kind == 'stim'"}], "mark": {"type": "text", "align": "left", "baseline": "middle", "fontSize": 14}, "encoding": {"text": {"field": "text"}}}
]
},
{
"width": 170,
"height": 166,
"data": {"name": "barA"},
"title": {"text": "Sustentacular Cells", "anchor": "start", "frame": "group", "dx": 12, "offset": -23, "baseline": "alphabetic", "fontSize": 16, "fontWeight": "normal", "color": "#111111"},
"resolve": {"axis": {"y": "independent"}},
"encoding": {
"x": {"field": "cond", "type": "nominal", "sort": null, "scale": {"paddingInner": 0.21, "paddingOuter": 0.09},
"axis": {"title": null, "labelAngle": 38, "labelAlign": "left", "labelBaseline": "top", "labelFontSize": 15, "labelColor": "#111111", "labelPadding": 2, "labelOffset": -2, "tickSize": 4, "tickColor": "#333333", "domainColor": "#333333"}}
},
"layer": [
{"mark": {"type": "bar", "fill": "#c4d3da", "stroke": "#2a2a2a", "strokeWidth": 1.3},
"encoding": {"y": {"field": "mean", "type": "quantitative", "scale": {"domain": [0, 1], "nice": false},
"axis": {"title": "ΔF/F", "titleFontSize": 16, "titleFontWeight": "normal", "titleColor": "#111111", "titlePadding": 4, "values": [0, 0.1, 0.2, 0.3, 0.4, 0.5, 0.6, 0.7, 0.8, 0.9, 1], "labelExpr": "round(datum.value*10)%2==0 ? format(datum.value,'.1f') : ''", "labelOverlap": false, "labelFlush": false, "labelBound": false, "labelFontSize": 13, "labelColor": "#333333", "labelPadding": 2, "tickSize": 3, "tickColor": "#333333", "domainColor": "#333333"}}}},
{"transform": [{"filter": "isValid(datum.hi)"}], "mark": {"type": "rule", "color": "#2a2a2a", "strokeWidth": 1.3}, "encoding": {"y": {"field": "mean", "type": "quantitative", "axis": null}, "y2": {"field": "hi"}}},
{"transform": [{"filter": "isValid(datum.hi)"}], "mark": {"type": "tick", "color": "#2a2a2a", "thickness": 1.3, "size": 5, "opacity": 1}, "encoding": {"y": {"field": "hi", "type": "quantitative", "axis": null}}}
]
},
{
"width": 396,
"height": 218,
"encoding": {
"x": {"field": "t", "type": "quantitative", "scale": {"domain": [0, 1584], "nice": false, "zero": false}, "axis": null},
"y": {"field": "v", "type": "quantitative", "scale": {"domain": [0, 272.5], "nice": false, "zero": false}, "axis": null}
},
"layer": [
{"data": {"name": "trB"}, "transform": [{"filter": "datum.c == 'g'"}], "mark": {"type": "line", "color": "#9db3bc", "strokeWidth": 4.2, "strokeJoin": "round"}, "encoding": {"detail": {"field": "s"}}},
{"data": {"name": "trB"}, "transform": [{"filter": "datum.c == 'k'"}], "mark": {"type": "line", "color": "#000000", "strokeWidth": 1.1}, "encoding": {"detail": {"field": "s"}}},
{"data": {"name": "anB"}, "transform": [{"filter": "datum.kind == 'tri'"}], "mark": {"type": "point", "shape": "triangle-up", "filled": true, "color": "#000000", "size": 25, "opacity": 1}},
{"data": {"name": "anB"}, "transform": [{"filter": "datum.kind == 'rule'"}], "mark": {"type": "rule", "color": "#111111", "strokeWidth": 1.3}, "encoding": {"x2": {"field": "t2"}, "y2": {"field": "v2"}}},
{"data": {"name": "anB"}, "transform": [{"filter": "datum.kind == 'letter'"}], "mark": {"type": "text", "align": "left", "baseline": "top", "fontSize": 17, "fontWeight": "bold"}, "encoding": {"text": {"field": "text"}}},
{"data": {"name": "anB"}, "transform": [{"filter": "datum.kind == 'title'"}], "mark": {"type": "text", "align": "left", "baseline": "top", "fontSize": 16}, "encoding": {"text": {"field": "text"}}},
{"data": {"name": "anB"}, "transform": [{"filter": "datum.kind == 'stim'"}], "mark": {"type": "text", "align": "left", "baseline": "middle", "fontSize": 14}, "encoding": {"text": {"field": "text"}}},
{"data": {"name": "anB"}, "transform": [{"filter": "datum.kind == 'scale'"}], "mark": {"type": "text", "align": "left", "baseline": "middle", "fontSize": 14}, "encoding": {"text": {"field": "text"}}},
{"data": {"name": "anB"}, "transform": [{"filter": "datum.kind == 'scalev'"}], "mark": {"type": "text", "align": "center", "baseline": "middle", "fontSize": 14, "angle": 270}, "encoding": {"text": {"field": "text"}}}
]
},
{
"width": 169,
"height": 166,
"data": {"name": "barB"},
"title": {"text": "Olfactory Sensory Neurons", "anchor": "start", "frame": "group", "dx": 5, "offset": -34, "baseline": "alphabetic", "fontSize": 16, "fontWeight": "normal", "color": "#111111"},
"resolve": {"axis": {"y": "independent"}},
"encoding": {
"x": {"field": "cond", "type": "nominal", "sort": null, "scale": {"paddingInner": 0.21, "paddingOuter": 0.14},
"axis": {"title": null, "labelAngle": 38, "labelAlign": "left", "labelBaseline": "top", "labelFontSize": 15, "labelColor": "#111111", "labelPadding": 2, "labelOffset": -2, "tickSize": 4, "tickColor": "#333333", "domainColor": "#333333"}}
},
"layer": [
{"mark": {"type": "bar", "fill": "#c4d3da", "stroke": "#2a2a2a", "strokeWidth": 1.3},
"encoding": {"y": {"field": "mean", "type": "quantitative", "scale": {"domain": [0, 1], "nice": false},
"axis": {"title": "ΔF/F", "titleFontSize": 16, "titleFontWeight": "normal", "titleColor": "#111111", "titlePadding": 4, "values": [0, 0.1, 0.2, 0.3, 0.4, 0.5, 0.6, 0.7, 0.8, 0.9, 1], "labelExpr": "round(datum.value*10)%2==0 ? format(datum.value,'.1f') : ''", "labelOverlap": false, "labelFlush": false, "labelBound": false, "labelFontSize": 13, "labelColor": "#333333", "labelPadding": 2, "tickSize": 3, "tickColor": "#333333", "domainColor": "#333333"}}}},
{"transform": [{"filter": "isValid(datum.hi)"}], "mark": {"type": "rule", "color": "#2a2a2a", "strokeWidth": 1.3}, "encoding": {"y": {"field": "mean", "type": "quantitative", "axis": null}, "y2": {"field": "hi"}}},
{"transform": [{"filter": "isValid(datum.hi)"}], "mark": {"type": "tick", "color": "#2a2a2a", "thickness": 1.3, "size": 5, "opacity": 1}, "encoding": {"y": {"field": "hi", "type": "quantitative", "axis": null}}}
]
},
{
"width": 396,
"height": 237,
"encoding": {
"x": {"field": "t", "type": "quantitative", "scale": {"domain": [0, 1980], "nice": false, "zero": false}, "axis": null},
"y": {"field": "v", "type": "quantitative", "scale": {"domain": [0, 59.25], "nice": false, "zero": false}, "axis": null}
},
"layer": [
{"data": {"name": "trC"}, "mark": {"type": "line", "color": "#000000", "strokeWidth": 1.2}, "encoding": {"detail": {"field": "s"}}},
{"data": {"name": "anC"}, "transform": [{"filter": "datum.kind == 'box'"}], "mark": {"type": "rect", "fill": "#ffffff", "stroke": "#555555", "strokeWidth": 1}, "encoding": {"x2": {"field": "t2"}, "y2": {"field": "v2"}}},
{"data": {"name": "anC"}, "transform": [{"filter": "datum.kind == 'tri'"}], "mark": {"type": "point", "shape": "triangle-up", "filled": true, "color": "#000000", "size": 25, "opacity": 1}},
{"data": {"name": "anC"}, "transform": [{"filter": "datum.kind == 'rule'"}], "mark": {"type": "rule", "color": "#444444", "strokeWidth": 1.2}, "encoding": {"x2": {"field": "t2"}, "y2": {"field": "v2"}}},
{"data": {"name": "anC"}, "transform": [{"filter": "datum.kind == 'letter'"}], "mark": {"type": "text", "align": "left", "baseline": "top", "fontSize": 17, "fontWeight": "bold"}, "encoding": {"text": {"field": "text"}}},
{"data": {"name": "anC"}, "transform": [{"filter": "datum.kind == 'stim'"}], "mark": {"type": "text", "align": "left", "baseline": "middle", "fontSize": 14}, "encoding": {"text": {"field": "text"}}},
{"data": {"name": "anC"}, "transform": [{"filter": "datum.kind == 'drug'"}], "mark": {"type": "text", "align": "left", "baseline": "middle", "fontSize": 13}, "encoding": {"text": {"field": "text"}}},
{"data": {"name": "anC"}, "transform": [{"filter": "datum.kind == 'scale'"}], "mark": {"type": "text", "align": "left", "baseline": "middle", "fontSize": 14}, "encoding": {"text": {"field": "text"}}}
]
},
{
"width": 166,
"height": 171,
"data": {"name": "barC"},
"resolve": {"axis": {"y": "independent"}},
"encoding": {
"x": {"field": "cond", "type": "nominal", "sort": null, "scale": {"paddingInner": 0.21, "paddingOuter": 0.29},
"axis": {"title": null, "labelExpr": "split(datum.value,'#')[0]", "labelAngle": 34, "labelAlign": "left", "labelBaseline": "top", "labelFontSize": 16, "labelColor": "#000000", "labelPadding": 3, "labelOffset": 0, "tickSize": 5, "tickWidth": 2, "domainWidth": 2, "tickColor": "#000000", "domainColor": "#000000"}}
},
"layer": [
{"mark": {"type": "bar", "fill": "#c4d3da", "stroke": "#000000", "strokeWidth": 2},
"encoding": {"y": {"field": "mean", "type": "quantitative", "scale": {"domain": [0, 1.2], "nice": false},
"axis": {"title": "Normalized Peak Amplitude", "titleFontSize": 16, "titleFontWeight": "normal", "titleColor": "#000000", "titlePadding": 4, "values": [0, 0.2, 0.4, 0.6, 0.8, 1.0, 1.2], "format": ".1f", "labelOverlap": false, "labelFlush": false, "labelBound": false, "labelFontSize": 13, "labelColor": "#111111", "labelPadding": 2, "tickSize": 5, "tickWidth": 2, "domainWidth": 2, "tickColor": "#000000", "domainColor": "#000000"}}}},
{"transform": [{"filter": "isValid(datum.hi)"}], "mark": {"type": "rule", "color": "#000000", "strokeWidth": 2}, "encoding": {"y": {"field": "mean", "type": "quantitative", "axis": null}, "y2": {"field": "hi"}}},
{"transform": [{"filter": "isValid(datum.hi)"}], "mark": {"type": "tick", "color": "#000000", "thickness": 2, "size": 14, "opacity": 1}, "encoding": {"y": {"field": "hi", "type": "quantitative", "axis": null}}},
{"transform": [{"filter": "isValid(datum.sig)"}], "mark": {"type": "text", "fontSize": 18, "baseline": "alphabetic", "dy": -7}, "encoding": {"y": {"field": "hi", "type": "quantitative", "axis": null}, "text": {"field": "sig"}}}
]
},
{
"width": 396,
"height": 224,
"encoding": {
"x": {"field": "t", "type": "quantitative", "scale": {"domain": [0, 3168], "nice": false, "zero": false}, "axis": null},
"y": {"field": "v", "type": "quantitative", "scale": {"domain": [0, 224], "nice": false, "zero": false}, "axis": null}
},
"layer": [
{"data": {"name": "trD"}, "transform": [{"filter": "datum.c == 'g'"}], "mark": {"type": "line", "color": "#9fb6bf", "strokeWidth": 1.6, "strokeJoin": "round"}, "encoding": {"detail": {"field": "s"}}},
{"data": {"name": "trD"}, "transform": [{"filter": "datum.c == 'k'"}], "mark": {"type": "line", "color": "#000000", "strokeWidth": 1.6}, "encoding": {"detail": {"field": "s"}}},
{"data": {"name": "anD"}, "transform": [{"filter": "datum.kind == 'box'"}], "mark": {"type": "rect", "fill": "#ffffff", "stroke": "#555555", "strokeWidth": 1}, "encoding": {"x2": {"field": "t2"}, "y2": {"field": "v2"}}},
{"data": {"name": "anD"}, "transform": [{"filter": "datum.kind == 'tri'"}], "mark": {"type": "point", "shape": "triangle-up", "filled": true, "color": "#000000", "size": 25, "opacity": 1}},
{"data": {"name": "anD"}, "transform": [{"filter": "datum.kind == 'letter'"}], "mark": {"type": "text", "align": "left", "baseline": "top", "fontSize": 17, "fontWeight": "bold"}, "encoding": {"text": {"field": "text"}}},
{"data": {"name": "anD"}, "transform": [{"filter": "datum.kind == 'stim'"}], "mark": {"type": "text", "align": "left", "baseline": "middle", "fontSize": 14}, "encoding": {"text": {"field": "text"}}},
{"data": {"name": "anD"}, "transform": [{"filter": "datum.kind == 'drug'"}], "mark": {"type": "text", "align": "left", "baseline": "middle", "fontSize": 14}, "encoding": {"text": {"field": "text"}}}
]
},
{
"width": 146,
"height": 182,
"data": {"name": "barD"},
"resolve": {"axis": {"y": "independent"}},
"encoding": {
"x": {"field": "cond", "type": "nominal", "sort": null, "scale": {"paddingInner": 0.15, "paddingOuter": 0.2},
"axis": {"title": null, "labelExpr": "split(datum.value,'#')[0]", "labelAngle": 32, "labelAlign": "left", "labelBaseline": "top", "labelFontSize": 15, "labelColor": "#000000", "labelPadding": 2, "labelOffset": -2, "tickSize": 4, "tickWidth": 1.5, "domainWidth": 1.5, "tickColor": "#000000", "domainColor": "#000000"}}
},
"layer": [
{"mark": {"type": "bar", "fill": "#c4d3da", "stroke": "#000000", "strokeWidth": 1.6},
"encoding": {"y": {"field": "mean", "type": "quantitative", "scale": {"domain": [0, 1.1], "nice": false},
"axis": {"title": "Normalized Peak Amplitude", "titleFontSize": 16, "titleFontWeight": "normal", "titleColor": "#000000", "titlePadding": 4, "values": [0, 0.1, 0.2, 0.3, 0.4, 0.5, 0.6, 0.7, 0.8, 0.9, 1], "labelExpr": "round(datum.value*10)%2==0 ? format(datum.value,'.1f') : ''", "labelOverlap": false, "labelFlush": false, "labelBound": false, "labelFontSize": 13, "labelColor": "#111111", "labelPadding": 2, "tickSize": 4, "tickWidth": 1.5, "domainWidth": 1.5, "tickColor": "#000000", "domainColor": "#000000"}}}},
{"transform": [{"filter": "isValid(datum.hi)"}], "mark": {"type": "rule", "color": "#000000", "strokeWidth": 1.8}, "encoding": {"y": {"field": "mean", "type": "quantitative", "axis": null}, "y2": {"field": "hi"}}},
{"transform": [{"filter": "isValid(datum.hi)"}], "mark": {"type": "tick", "color": "#000000", "thickness": 1.8, "size": 6, "opacity": 1}, "encoding": {"y": {"field": "hi", "type": "quantitative", "axis": null}}},
{"transform": [{"filter": "isValid(datum.sig)"}], "mark": {"type": "text", "fontSize": 18, "baseline": "alphabetic", "dy": -3}, "encoding": {"y": {"field": "hi", "type": "quantitative", "axis": null}, "text": {"field": "sig"}}}
]
},
{
"width": 396,
"height": 182,
"encoding": {
"x": {"field": "t", "type": "quantitative", "scale": {"domain": [0, 3168], "nice": false, "zero": false}, "axis": null},
"y": {"field": "v", "type": "quantitative", "scale": {"domain": [0, 182], "nice": false, "zero": false}, "axis": null}
},
"layer": [
{"data": {"name": "trE"}, "transform": [{"filter": "datum.c == 'g'"}], "mark": {"type": "line", "color": "#9fb6bf", "strokeWidth": 1.6, "strokeJoin": "round"}, "encoding": {"detail": {"field": "s"}}},
{"data": {"name": "trE"}, "transform": [{"filter": "datum.c == 'k'"}], "mark": {"type": "line", "color": "#000000", "strokeWidth": 1.6}, "encoding": {"detail": {"field": "s"}}},
{"data": {"name": "anE"}, "transform": [{"filter": "datum.kind == 'box'"}], "mark": {"type": "rect", "fill": "#ffffff", "stroke": "#555555", "strokeWidth": 1}, "encoding": {"x2": {"field": "t2"}, "y2": {"field": "v2"}}},
{"data": {"name": "anE"}, "transform": [{"filter": "datum.kind == 'tri'"}], "mark": {"type": "point", "shape": "triangle-up", "filled": true, "color": "#000000", "size": 25, "opacity": 1}},
{"data": {"name": "anE"}, "transform": [{"filter": "datum.kind == 'rule'"}], "mark": {"type": "rule", "color": "#222222", "strokeWidth": 1.2}, "encoding": {"x2": {"field": "t2"}, "y2": {"field": "v2"}}},
{"data": {"name": "anE"}, "transform": [{"filter": "datum.kind == 'letter'"}], "mark": {"type": "text", "align": "left", "baseline": "top", "fontSize": 17, "fontWeight": "bold"}, "encoding": {"text": {"field": "text"}}},
{"data": {"name": "anE"}, "transform": [{"filter": "datum.kind == 'stim'"}], "mark": {"type": "text", "align": "left", "baseline": "middle", "fontSize": 14}, "encoding": {"text": {"field": "text"}}},
{"data": {"name": "anE"}, "transform": [{"filter": "datum.kind == 'drug'"}], "mark": {"type": "text", "align": "left", "baseline": "middle", "fontSize": 14}, "encoding": {"text": {"field": "text"}}},
{"data": {"name": "anE"}, "transform": [{"filter": "datum.kind == 'scale'"}], "mark": {"type": "text", "align": "left", "baseline": "middle", "fontSize": 15}, "encoding": {"text": {"field": "text"}}}
]
},
{
"width": 146,
"height": 182,
"data": {"name": "barE"},
"resolve": {"axis": {"y": "independent"}},
"encoding": {
"x": {"field": "cond", "type": "nominal", "sort": null, "scale": {"paddingInner": 0.15, "paddingOuter": 0.2},
"axis": {"title": null, "labelExpr": "split(datum.value,'#')[0]", "labelAngle": 33, "labelAlign": "left", "labelBaseline": "top", "labelFontSize": 15, "labelColor": "#000000", "labelPadding": 2, "labelOffset": -2, "tickSize": 4, "tickWidth": 1.5, "domainWidth": 1.5, "tickColor": "#000000", "domainColor": "#000000"}}
},
"layer": [
{"mark": {"type": "bar", "fill": "#c4d3da", "stroke": "#000000", "strokeWidth": 1.6},
"encoding": {"y": {"field": "mean", "type": "quantitative", "scale": {"domain": [0, 1.1], "nice": false},
"axis": {"title": "Normalized Peak Amplitude", "titleFontSize": 16, "titleFontWeight": "normal", "titleColor": "#000000", "titlePadding": 4, "values": [0, 0.1, 0.2, 0.3, 0.4, 0.5, 0.6, 0.7, 0.8, 0.9, 1], "labelExpr": "round(datum.value*10)%2==0 ? format(datum.value,'.1f') : ''", "labelOverlap": false, "labelFlush": false, "labelBound": false, "labelFontSize": 13, "labelColor": "#111111", "labelPadding": 2, "tickSize": 4, "tickWidth": 1.5, "domainWidth": 1.5, "tickColor": "#000000", "domainColor": "#000000"}}}},
{"transform": [{"filter": "isValid(datum.hi)"}], "mark": {"type": "rule", "color": "#000000", "strokeWidth": 1.8}, "encoding": {"y": {"field": "mean", "type": "quantitative", "axis": null}, "y2": {"field": "hi"}}},
{"transform": [{"filter": "isValid(datum.hi)"}], "mark": {"type": "tick", "color": "#000000", "thickness": 1.8, "size": 6, "opacity": 1}, "encoding": {"y": {"field": "hi", "type": "quantitative", "axis": null}}}
]
}
]
}
